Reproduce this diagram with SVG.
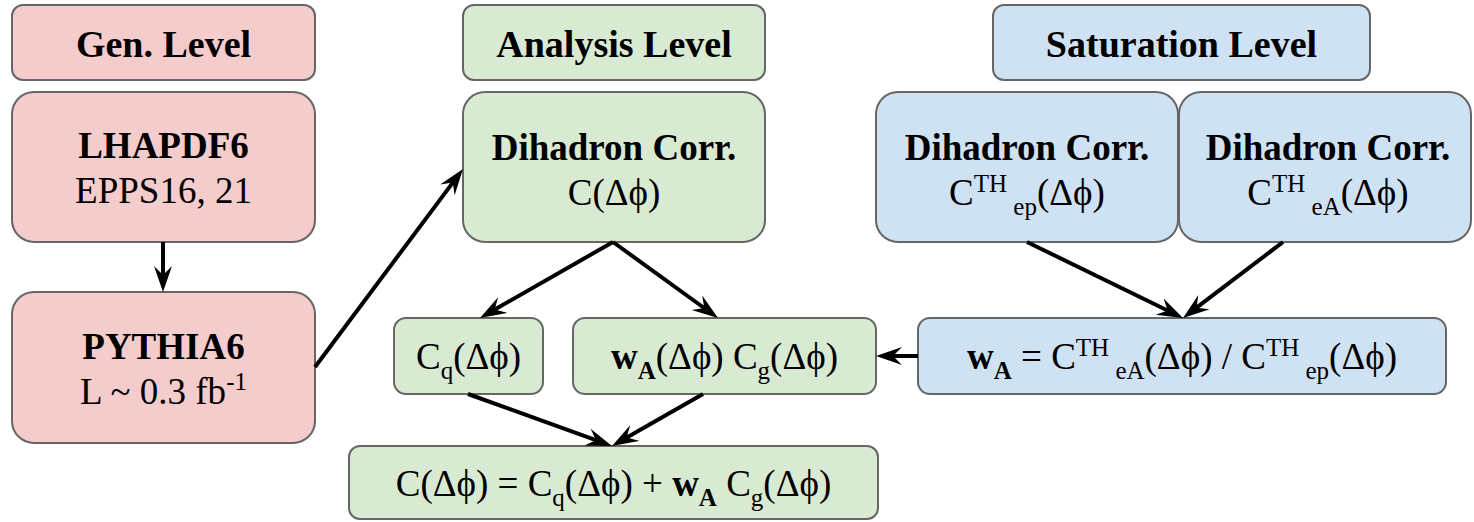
<svg xmlns="http://www.w3.org/2000/svg" width="1474" height="522" viewBox="0 0 1474 522">
<style>
.box{stroke:#666;stroke-width:2}
.pink{fill:#f4cccc}
.green{fill:#d9ead3}
.blue{fill:#cfe2f3}
text{font-family:"Liberation Serif","Times New Roman",serif;font-size:37px;fill:#000;text-anchor:middle}
.b{font-weight:bold}
.h{font-size:38px;font-weight:bold}
.s{font-size:25px}
.conn line{stroke:#000;stroke-width:4;marker-end:url(#arr)}
</style>
<defs>
<marker id="arr" markerUnits="userSpaceOnUse" markerWidth="28" markerHeight="20" refX="14" refY="9" orient="auto">
<path d="M0,0 L26,9 L0,18 L9,9 Z" fill="#000"/>
</marker>
</defs>
<rect width="1474" height="522" fill="#fff"/>

<g id="gen-level"><rect class="box pink" x="12" y="5" width="303" height="75" rx="11"/><text class="h" x="163.5" y="57">Gen. Level</text></g>
<g id="lhapdf"><rect class="box pink" x="12" y="92" width="303" height="150" rx="22"/><text class="b" x="163.5" y="158">LHAPDF6</text><text x="163.5" y="203">EPPS16, 21</text></g>
<g id="pythia"><rect class="box pink" x="12" y="292" width="303" height="151" rx="22"/><text class="b" x="163.5" y="359">PYTHIA6</text><text x="163.5" y="404">L ~ 0.3 fb<tspan class="s" dy="-14">-1</tspan></text></g>

<g id="analysis-level"><rect class="box green" x="463" y="5" width="302" height="75" rx="11"/><text class="h" x="614" y="57">Analysis Level</text></g>
<g id="dihadron"><rect class="box green" x="463" y="92" width="302" height="150" rx="22"/><text class="b" x="614" y="160">Dihadron Corr.</text><text x="614" y="205">C(Δϕ)</text></g>
<g id="cq"><rect class="box green" x="394" y="318" width="149" height="76" rx="12"/><text x="468.5" y="369">C<tspan class="s" dy="10">q</tspan><tspan dy="-10">(Δϕ)</tspan></text></g>
<g id="wacg"><rect class="box green" x="573" y="318" width="303" height="76" rx="12"/><text x="724.5" y="369"><tspan class="b">w</tspan><tspan class="s b" dy="10">A</tspan><tspan dy="-10">(Δϕ) C</tspan><tspan class="s" dy="10">g</tspan><tspan dy="-10">(Δϕ)</tspan></text></g>
<g id="sum"><rect class="box green" x="349" y="446" width="529" height="73" rx="11"/><text x="613.5" y="496">C(Δϕ) = C<tspan class="s" dy="10">q</tspan><tspan dy="-10">(Δϕ) + </tspan><tspan class="b">w</tspan><tspan class="s b" dy="10">A</tspan><tspan dy="-10"> C</tspan><tspan class="s" dy="10">g</tspan><tspan dy="-10">(Δϕ)</tspan></text></g>

<g id="saturation-level"><rect class="box blue" x="993" y="5" width="377" height="75" rx="11"/><text class="h" x="1181.5" y="57">Saturation Level</text></g>
<g id="dihadron-ep"><rect class="box blue" x="876" y="92" width="302" height="150" rx="22"/><text class="b" x="1027" y="160">Dihadron Corr.</text><text x="1027" y="205">C<tspan class="s" dy="-13">TH</tspan><tspan class="s" dy="23"> ep</tspan><tspan dy="-10">(Δϕ)</tspan></text></g>
<g id="dihadron-ea"><rect class="box blue" x="1179" y="92" width="292" height="150" rx="22"/><text class="b" x="1328" y="160">Dihadron Corr.</text><text x="1328" y="205">C<tspan class="s" dy="-13">TH</tspan><tspan class="s" dy="23"> eA</tspan><tspan dy="-10">(Δϕ)</tspan></text></g>
<g id="wa"><rect class="box blue" x="918" y="318" width="528" height="76" rx="12"/><text x="1182" y="369"><tspan class="b">w</tspan><tspan class="s b" dy="10">A</tspan><tspan dy="-10"> = C</tspan><tspan class="s" dy="-13">TH</tspan><tspan class="s" dy="23"> eA</tspan><tspan dy="-10">(Δϕ) / C</tspan><tspan class="s" dy="-13">TH</tspan><tspan class="s" dy="23"> ep</tspan><tspan dy="-10">(Δϕ)</tspan></text></g>

<g id="connectors" class="conn">
<line x1="163" y1="242" x2="163" y2="280"/>
<line x1="315" y1="367" x2="455.8" y2="178.6"/>
<line x1="613" y1="242" x2="490.4" y2="312"/>
<line x1="613" y1="242" x2="708.3" y2="311"/>
<line x1="468" y1="394" x2="600.7" y2="441.9"/>
<line x1="703" y1="394" x2="622.4" y2="440"/>
<line x1="1027" y1="242" x2="1172.2" y2="312.7"/>
<line x1="1283" y1="242" x2="1192.6" y2="310.7"/>
<line x1="918" y1="356" x2="888" y2="356"/>
</g>
</svg>
